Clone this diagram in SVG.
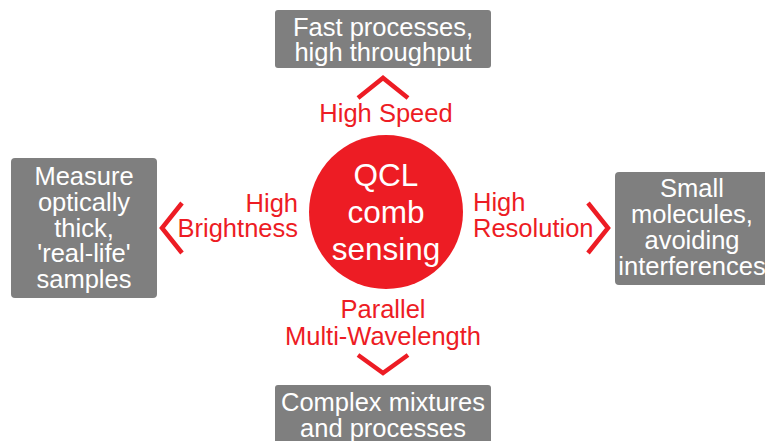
<svg xmlns="http://www.w3.org/2000/svg" width="765" height="441" viewBox="0 0 765 441">
<style>
.box{fill:#7f7f7f}
.bt{fill:#fff;font-family:"Liberation Sans",Arial,sans-serif;font-size:25.5px;text-anchor:middle}
.lbl{fill:#ed1c24;font-family:"Liberation Sans",Arial,sans-serif;font-size:25.5px}
.chev{fill:none;stroke:#ed1c24;stroke-width:4.5;stroke-linejoin:miter}
.ct{fill:#fff;font-family:"Liberation Sans",Arial,sans-serif;font-size:31.5px;text-anchor:middle}
</style>
<rect width="765" height="441" fill="#fff"/>
<g id="center">
<circle cx="386" cy="212" r="77" fill="#ed1c24"/>
<text class="ct" x="386" y="186">QCL</text>
<text class="ct" x="386" y="223">comb</text>
<text class="ct" x="386" y="260">sensing</text>
</g>
<g id="top">
<rect class="box" x="275" y="10" width="216" height="58" rx="3"/>
<text class="bt" x="383" y="36">Fast processes,</text>
<text class="bt" x="383" y="61">high throughput</text>
</g>
<g id="left">
<rect class="box" x="11" y="158" width="146" height="140" rx="4"/>
<text class="bt" x="84" y="185">Measure</text>
<text class="bt" x="84" y="211">optically</text>
<text class="bt" x="84" y="237">thick,</text>
<text class="bt" x="84" y="262">'real-life'</text>
<text class="bt" x="84" y="288">samples</text>
</g>
<g id="right">
<rect class="box" x="615" y="172" width="160" height="113" rx="4"/>
<text class="bt" x="692" y="197">Small</text>
<text class="bt" x="692" y="223">molecules,</text>
<text class="bt" x="692" y="249">avoiding</text>
<text class="bt" x="692" y="275">interferences</text>
</g>
<g id="bottom">
<rect class="box" x="275" y="385" width="216" height="70" rx="3"/>
<text class="bt" x="383" y="411">Complex mixtures</text>
<text class="bt" x="383" y="437">and processes</text>
</g>
<g id="connectors">
<polyline class="chev" points="358,98 383,78 408,98"/>
<text class="lbl" x="386" y="122" text-anchor="middle">High Speed</text>
<polyline class="chev" points="182,203 162,228 182,253"/>
<text class="lbl" x="298" y="212" text-anchor="end">High</text>
<text class="lbl" x="298" y="237" text-anchor="end">Brightness</text>
<polyline class="chev" points="588,203 608,228 588,253"/>
<text class="lbl" x="473" y="211">High</text>
<text class="lbl" x="473" y="237">Resolution</text>
<polyline class="chev" points="358,355 383,373 408,355"/>
<text class="lbl" x="383" y="318" text-anchor="middle">Parallel</text>
<text class="lbl" x="383" y="345" text-anchor="middle">Multi-Wavelength</text>
</g>
</svg>
